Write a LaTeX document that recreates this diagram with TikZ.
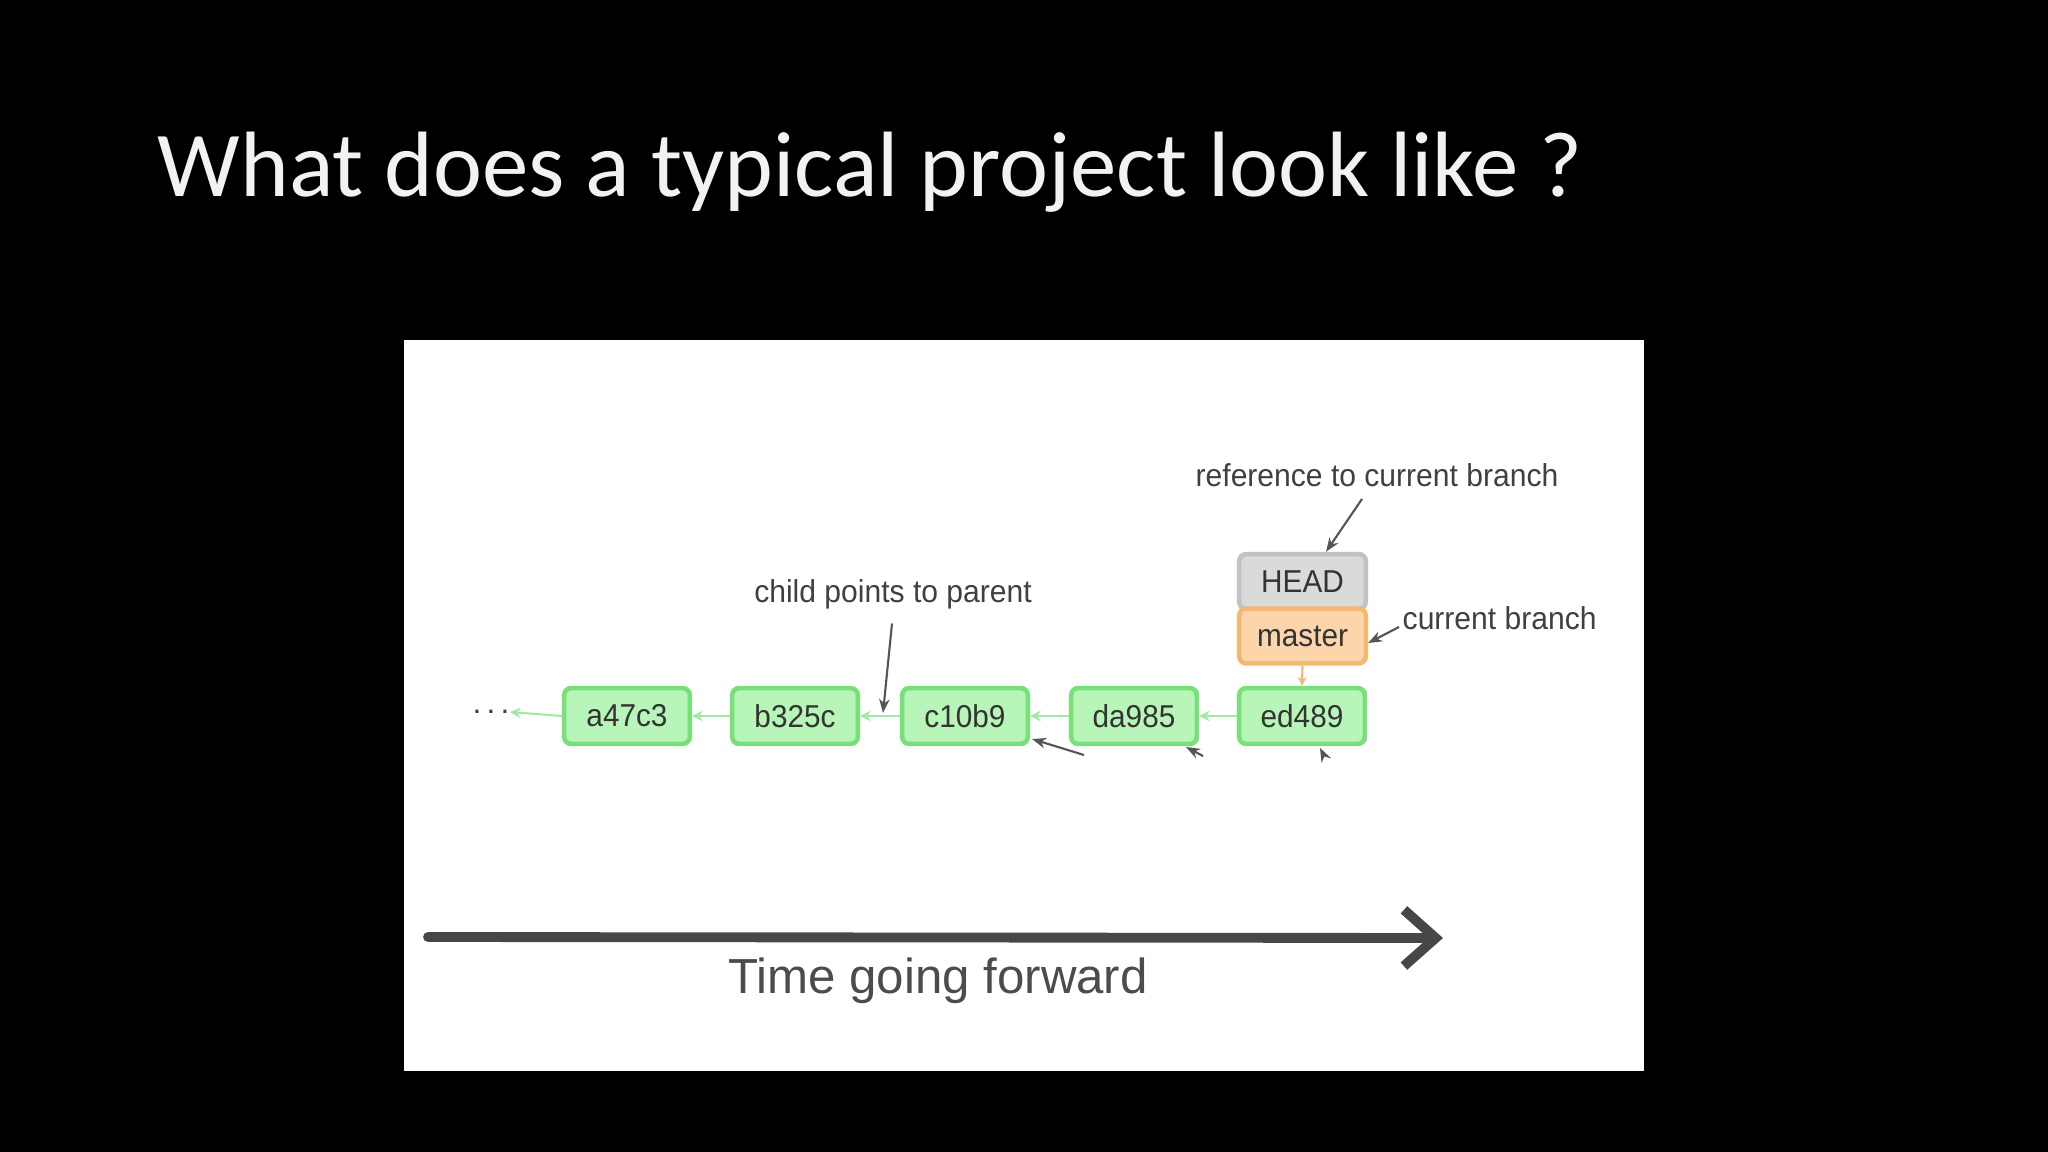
\documentclass[tikz,border=0pt]{standalone}
\usepackage{fontspec}
\setmainfont{Carlito}
\newfontfamily\lab{Liberation Sans}
\usetikzlibrary{arrows.meta}
\definecolor{gfill}{HTML}{B8F5B8}
\definecolor{gdraw}{HTML}{78E078}
\definecolor{hfill}{HTML}{DADADA}
\definecolor{hdraw}{HTML}{C2C2C2}
\definecolor{mfill}{HTML}{FCD6AA}
\definecolor{mdraw}{HTML}{F6B870}
\definecolor{ptr}{HTML}{555555}
\tikzset{
 commit/.style={draw=gdraw,fill=gfill,line width=1.3pt,rounded corners=2pt,minimum width=126*0.2835pt,minimum height=56*0.2835pt,inner sep=0pt,text=black!80,font=\lab\fontsize{9}{10}\selectfont},
 refbox/.style={line width=1.3pt,rounded corners=2pt,minimum width=127*0.2835pt,minimum height=55*0.2835pt,inner sep=0pt,text=black!80,font=\lab\fontsize{9}{10}\selectfont},
 note/.style={text=black!75,inner sep=0pt,font=\lab\fontsize{9}{10}\selectfont},
 parent/.style={draw=gdraw!70,line width=0.6pt,-{Stealth[length=3pt,width=3pt]}},
 pointer/.style={draw=ptr,line width=0.6pt,-{Stealth[length=4pt,width=3pt]}}
}
\begin{document}
\begin{tikzpicture}[x=0.01cm,y=-0.01cm]
\fill[black] (0,0) rectangle (2048,1152);
\fill[white] (404,340) rectangle (1644,1071);
\node[anchor=west,text=white!95!black,inner sep=0pt,font=\fontsize{26.4}{31}\selectfont] (title) at (157,172) {What does a typical project look like ?};
\node[commit] (a) at (627,716) {\scalebox{0.94}[1]{a47c3}};
\node[commit] (b) at (795,716) {\scalebox{0.94}[1]{b325c}};
\node[commit] (c) at (965,716) {\scalebox{0.94}[1]{c10b9}};
\node[commit] (d) at (1134,716) {\scalebox{0.94}[1]{da985}};
\node[commit] (e) at (1302,716) {\scalebox{0.94}[1]{ed489}};
\node[refbox,draw=hdraw,fill=hfill] (head) at (1302.5,581.5) {\scalebox{0.94}[1]{HEAD}};
\node[refbox,draw=mdraw,fill=mfill] (master) at (1302.5,636) {\scalebox{0.94}[1]{master}};
\node[text=black!75,inner sep=0pt,font=\lab\fontsize{9}{10}\selectfont] (dots) at (491,712) {.\,.\,.};
\draw[parent] (a.west) -- (dots.east);
\draw[parent] (b.west) -- (a.east);
\draw[parent] (c.west) -- (b.east);
\draw[parent] (d.west) -- (c.east);
\draw[parent] (e.west) -- (d.east);
\draw[draw=mdraw,line width=0.6pt,-{Stealth[length=2.5pt,width=2.5pt]}] (master.south) -- (e.north);
\node[note] (n1) at (893,594) {\scalebox{0.95}[1]{child points to parent}};
\node[note] (n2) at (1377,475) {\scalebox{0.95}[1]{reference to current branch}};
\node[note,anchor=west] (n3) at (1402,618) {\scalebox{0.95}[1]{current branch}};
\coordinate (p1) at (883,713);
\draw[pointer] ([yshift=-4pt]n1.south -| 892,0) -- (p1);
\draw[pointer] (1362,499) -- (head.north -| 1326,0);
\draw[pointer] (n3.west) ++(-3,9) -- ([yshift=-2pt]master.east);
\draw[pointer] (1084,755) -- (1032,739);
\draw[pointer] (1203,756) -- (1186,747);
\draw[pointer] (1324,756) -- (1320,748);
\node[text=black!70,inner sep=0pt,font=\lab\fontsize{14}{16}\selectfont] (time) at (938,981) {Time going forward};
\coordinate (t0) at (428,937);
\coordinate (t1) at (1443,938);
\draw[draw=black!72,line width=2.8pt,line cap=round,-{Straight Barb[length=9pt,width=16pt,line width=2.8pt]}] (t0) -- (t1);
\end{tikzpicture}
\end{document}
